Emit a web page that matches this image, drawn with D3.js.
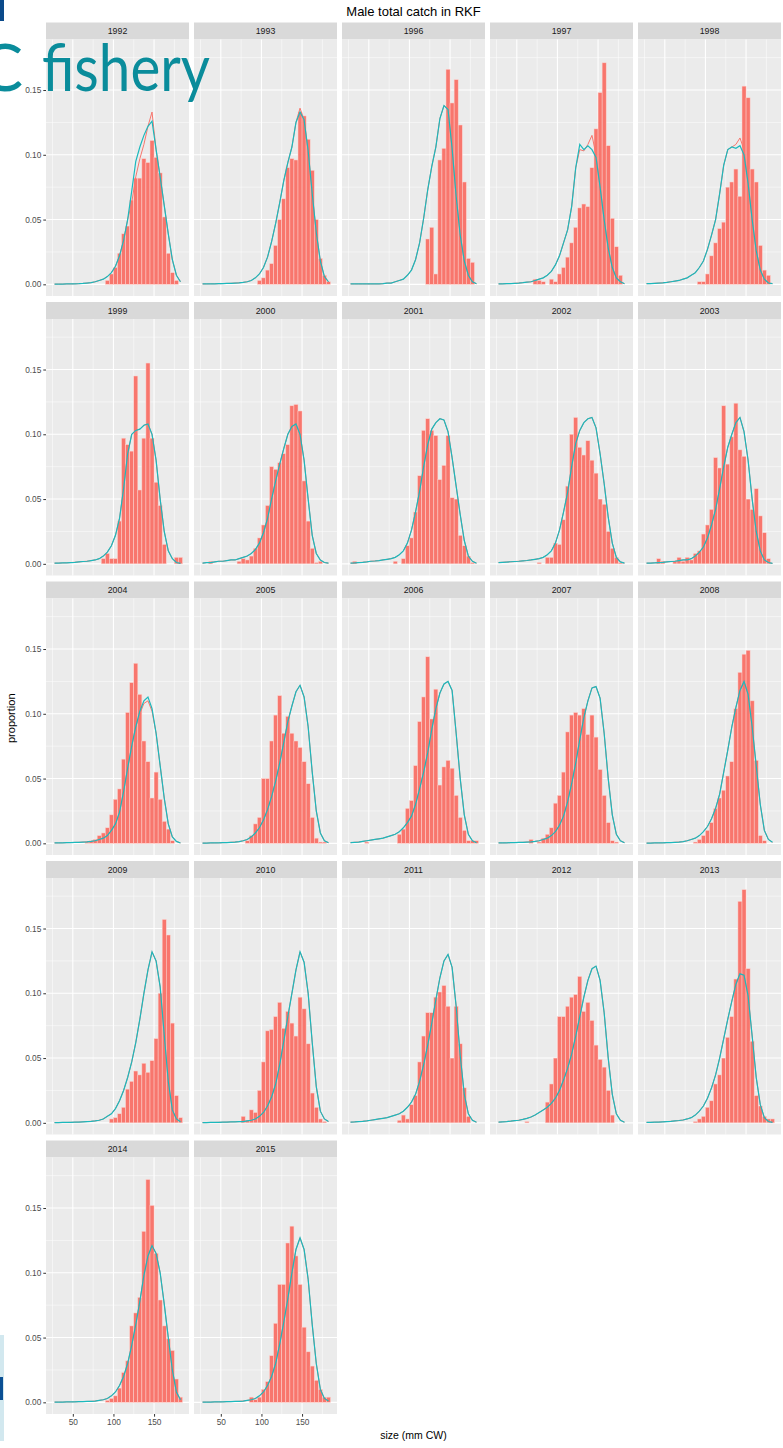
<!DOCTYPE html>
<html><head><meta charset="utf-8">
<script src="https://cdn.jsdelivr.net/npm/d3@7"></script>
<style>body{margin:0;background:#fff;} svg{display:block;font-family:"Liberation Sans",Arial,sans-serif;}</style>
</head><body><svg id="c" width="783" height="1448"></svg>
<script>
const chartTitle = "Male total catch in RKF";
const xTitle = "size (mm CW)";
const yTitle = "proportion";
const years = [1992,1993,1996,1997,1998,1999,2000,2001,2002,2003,2004,2005,2006,2007,2008,2009,2010,2011,2012,2013,2014,2015];
const sizeMid = [27.5,32.5,37.5,42.5,47.5,52.5,57.5,62.5,67.5,72.5,77.5,82.5,87.5,92.5,97.5,102.5,107.5,112.5,117.5,122.5,127.5,132.5,137.5,142.5,147.5,152.5,157.5,162.5,167.5,172.5,177.5,182.5];
const binWidth = 5;
const xTicks = [50,100,150];
const xMinor = [25,75,125,175];
const yTicks = [0,0.05,0.10,0.15];
const yMinor = [0.025,0.075,0.125,0.175];

// observed proportions by 5 mm size bin (one row per year)
const observed = [
[0,0,0,0,0,0,0,0,0,0,0,0,0,0.003,0.008,0.013,0.024,0.039,0.045,0.065,0.082,0.082,0.097,0.094,0.111,0.098,0.086,0.052,0.024,0.009,0.003,0],
[0,0,0,0,0,0,0,0,0,0,0,0,0,0,0.003,0.005,0.011,0.016,0.03,0.05,0.066,0.09,0.097,0.096,0.133,0.13,0.112,0.088,0.05,0.02,0.007,0.002],
[0,0,0,0,0,0,0,0,0,0,0,0,0,0,0,0,0,0,0,0.035,0.044,0.008,0.096,0.105,0.166,0.14,0.158,0.123,0.079,0.02,0.017,0],
[0,0,0,0,0,0,0,0,0,0.004,0.003,0.002,0,0.004,0.002,0.008,0.013,0.021,0.032,0.044,0.059,0.062,0.06,0.09,0.12,0.148,0.171,0.107,0.051,0.029,0.007,0],
[0,0,0,0,0,0,0,0,0,0,0,0,0,0.002,0.002,0.008,0.022,0.032,0.043,0.048,0.075,0.079,0.089,0.068,0.153,0.144,0.089,0.079,0.03,0.011,0.007,0],
[0,0,0,0,0,0,0,0,0,0,0,0,0.004,0.008,0.004,0.004,0.033,0.097,0.092,0.087,0.145,0.057,0.097,0.155,0.097,0.063,0.045,0.015,0,0,0.005,0.005],
[0,0,0.002,0,0,0,0,0,0,0.002,0.004,0.003,0.006,0.012,0.02,0.03,0.045,0.075,0.073,0.078,0.085,0.092,0.122,0.123,0.118,0.064,0.033,0.012,0.001,0.002,0,0],
[0,0.002,0,0,0,0,0,0,0,0,0,0.002,0,0.004,0.014,0.02,0.04,0.068,0.103,0.112,0.103,0.099,0.065,0.076,0.099,0.051,0.05,0.022,0.014,0.006,0.001,0],
[0,0,0,0,0,0,0,0,0,0,0.001,0,0.005,0.005,0.016,0.015,0.034,0.06,0.1,0.113,0.09,0.084,0.095,0.08,0.07,0.05,0.046,0.025,0.012,0.005,0.001,0],
[0,0,0,0.004,0.002,0,0,0.002,0.005,0.002,0.005,0.003,0.008,0.01,0.023,0.03,0.042,0.082,0.074,0.122,0.077,0.098,0.124,0.088,0.083,0.05,0.042,0.058,0.037,0.024,0.004,0],
[0,0,0,0,0,0,0,0,0.001,0.002,0.003,0.006,0.008,0.012,0.022,0.034,0.042,0.065,0.101,0.124,0.139,0.115,0.079,0.063,0.035,0.055,0.034,0.017,0.011,0.002,0,0],
[0,0,0,0,0,0,0,0,0,0,0,0.002,0.006,0.015,0.02,0.05,0.05,0.079,0.099,0.114,0.085,0.098,0.085,0.079,0.074,0.063,0.046,0.02,0.004,0.001,0.001,0],
[0,0,0,0,0.001,0,0,0,0,0,0,0,0.007,0.011,0.027,0.033,0.06,0.094,0.113,0.144,0.096,0.119,0.045,0.059,0.064,0.058,0.037,0.02,0.01,0.002,0.002,0.002],
[0,0,0,0,0,0,0,0,0.003,0,0.001,0.004,0.007,0.012,0.031,0.037,0.055,0.086,0.099,0.101,0.099,0.104,0.084,0.099,0.082,0.057,0.037,0.016,0.002,0.001,0,0],
[0,0,0,0,0,0,0,0,0,0,0,0,0.001,0.003,0.006,0.01,0.016,0.027,0.035,0.041,0.052,0.063,0.104,0.132,0.146,0.149,0.11,0.064,0.006,0.002,0,0],
[0,0,0,0,0,0,0,0,0,0,0,0,0,0,0.003,0.004,0.007,0.012,0.026,0.032,0.04,0.037,0.046,0.039,0.048,0.065,0.1,0.157,0.145,0.077,0.021,0.004],
[0,0,0,0,0,0,0,0,0,0,0.005,0.002,0.01,0.008,0.025,0.047,0.071,0.072,0.082,0.093,0.073,0.086,0.077,0.067,0.097,0.088,0.061,0.023,0.012,0.003,0.001,0],
[0,0,0,0,0,0,0,0,0,0,0,0,0.002,0.006,0.003,0.014,0.021,0.047,0.067,0.085,0.085,0.097,0.101,0.106,0.09,0.05,0.09,0.061,0.027,0.005,0,0],
[0,0,0,0,0,0,0,0.001,0,0,0,0,0.016,0.03,0.05,0.082,0.082,0.09,0.097,0.099,0.113,0.086,0.093,0.079,0.06,0.049,0.043,0.025,0.006,0,0,0],
[0,0,0,0,0,0,0,0,0,0,0,0,0.001,0.003,0.005,0.012,0.017,0.03,0.037,0.05,0.066,0.082,0.111,0.171,0.18,0.119,0.063,0.021,0.013,0.005,0.003,0.003],
[0,0,0,0,0,0,0,0,0,0,0,0,0,0.0015,0.003,0.005,0.011,0.023,0.032,0.059,0.069,0.081,0.132,0.172,0.152,0.115,0.079,0.059,0.049,0.04,0.018,0.004],
[0,0,0,0,0,0,0,0,0,0,0,0,0.004,0.002,0.004,0.01,0.016,0.036,0.061,0.091,0.091,0.123,0.136,0.113,0.091,0.058,0.039,0.028,0.017,0.01,0.004,0.004]
];

// predicted proportions, teal line
const predTeal = [
[0.0002,0.0002,0.0002,0.0003,0.0003,0.0004,0.0005,0.0007,0.001,0.0013,0.002,0.003,0.004,0.006,0.009,0.014,0.022,0.034,0.05,0.072,0.095,0.106,0.115,0.122,0.126,0.104,0.083,0.061,0.039,0.019,0.007,0.002],
[0.0003,0.0003,0.0004,0.0004,0.0005,0.0006,0.0007,0.0008,0.001,0.0012,0.0015,0.002,0.003,0.005,0.008,0.013,0.021,0.033,0.047,0.063,0.08,0.094,0.106,0.125,0.133,0.127,0.103,0.07,0.04,0.018,0.006,0.002],
[0.0003,0.0003,0.0003,0.0003,0.0003,0.0003,0.0003,0.0003,0.0005,0.001,0.001,0.002,0.003,0.004,0.007,0.011,0.019,0.032,0.051,0.073,0.091,0.106,0.128,0.138,0.135,0.105,0.068,0.038,0.018,0.007,0.002,0.0005],
[0.0003,0.0004,0.0005,0.0006,0.0008,0.001,0.0013,0.0017,0.002,0.003,0.004,0.005,0.007,0.01,0.015,0.022,0.032,0.042,0.06,0.09,0.108,0.104,0.107,0.104,0.098,0.075,0.05,0.028,0.013,0.005,0.002,0.0005],
[0.0005,0.0006,0.0008,0.001,0.0012,0.0015,0.002,0.0025,0.003,0.004,0.005,0.007,0.009,0.013,0.018,0.027,0.038,0.05,0.07,0.092,0.104,0.106,0.105,0.107,0.1,0.078,0.05,0.026,0.011,0.004,0.001,0.0005],
[0.0005,0.0006,0.0007,0.0008,0.001,0.0012,0.0015,0.0018,0.002,0.0025,0.003,0.004,0.006,0.009,0.014,0.022,0.035,0.058,0.085,0.1,0.103,0.104,0.107,0.108,0.1,0.08,0.05,0.025,0.01,0.004,0.001,0.0003],
[0.0005,0.001,0.001,0.0015,0.002,0.002,0.0025,0.003,0.003,0.004,0.005,0.006,0.008,0.011,0.016,0.024,0.035,0.05,0.064,0.077,0.089,0.1,0.106,0.108,0.1,0.08,0.05,0.022,0.008,0.003,0.001,0.0005],
[0.0005,0.0007,0.001,0.0012,0.0015,0.002,0.0022,0.0025,0.003,0.0035,0.004,0.005,0.007,0.01,0.016,0.026,0.04,0.056,0.075,0.092,0.104,0.109,0.112,0.111,0.102,0.082,0.06,0.038,0.018,0.006,0.002,0.0005],
[0.001,0.0012,0.0014,0.0016,0.0018,0.002,0.0023,0.0026,0.003,0.0035,0.004,0.005,0.007,0.01,0.016,0.026,0.04,0.055,0.075,0.093,0.103,0.109,0.112,0.113,0.105,0.085,0.062,0.036,0.016,0.005,0.0015,0.0005],
[0.0005,0.0006,0.0008,0.001,0.0012,0.0015,0.0018,0.002,0.0025,0.003,0.003,0.004,0.006,0.009,0.013,0.02,0.03,0.042,0.058,0.075,0.09,0.1,0.109,0.113,0.102,0.08,0.05,0.025,0.01,0.003,0.001,0.0003],
[0.0003,0.0003,0.0004,0.0005,0.0006,0.0007,0.0008,0.001,0.0012,0.0015,0.002,0.003,0.004,0.006,0.01,0.015,0.024,0.04,0.058,0.075,0.09,0.102,0.11,0.113,0.104,0.085,0.06,0.035,0.015,0.005,0.0015,0.0003],
[0.0002,0.0002,0.0003,0.0003,0.0004,0.0005,0.0006,0.0008,0.001,0.0013,0.002,0.003,0.005,0.008,0.012,0.018,0.026,0.036,0.048,0.062,0.078,0.094,0.106,0.117,0.122,0.113,0.09,0.055,0.025,0.008,0.002,0.0005],
[0.0005,0.0008,0.001,0.0015,0.002,0.0025,0.003,0.0035,0.004,0.005,0.006,0.007,0.009,0.012,0.016,0.021,0.03,0.042,0.055,0.07,0.088,0.104,0.116,0.123,0.125,0.118,0.085,0.05,0.022,0.007,0.002,0.0005],
[0.0003,0.0003,0.0004,0.0005,0.0006,0.0007,0.0008,0.001,0.0012,0.0015,0.002,0.003,0.004,0.006,0.009,0.014,0.021,0.032,0.046,0.062,0.08,0.097,0.11,0.12,0.121,0.112,0.085,0.05,0.022,0.007,0.002,0.0005],
[0.0002,0.0002,0.0003,0.0003,0.0004,0.0005,0.0006,0.0008,0.001,0.0013,0.002,0.003,0.004,0.006,0.009,0.013,0.019,0.027,0.038,0.055,0.072,0.09,0.105,0.118,0.125,0.115,0.09,0.06,0.03,0.01,0.003,0.0008],
[0.0002,0.0002,0.0003,0.0003,0.0004,0.0005,0.0006,0.0008,0.001,0.0012,0.0015,0.002,0.003,0.005,0.007,0.011,0.017,0.025,0.035,0.047,0.062,0.08,0.1,0.118,0.132,0.125,0.105,0.068,0.032,0.01,0.003,0.0008],
[0.0002,0.0002,0.0003,0.0003,0.0004,0.0005,0.0006,0.0007,0.0008,0.0009,0.001,0.0015,0.002,0.003,0.005,0.008,0.013,0.02,0.03,0.045,0.063,0.082,0.1,0.118,0.132,0.124,0.1,0.062,0.028,0.009,0.003,0.001],
[0.0005,0.0007,0.001,0.0012,0.0015,0.002,0.0025,0.003,0.0035,0.004,0.005,0.006,0.007,0.009,0.012,0.016,0.022,0.032,0.045,0.06,0.077,0.095,0.112,0.125,0.13,0.12,0.09,0.052,0.022,0.007,0.002,0.0005],
[0.0005,0.0008,0.001,0.0013,0.0017,0.002,0.0027,0.0035,0.0045,0.006,0.008,0.01,0.012,0.015,0.019,0.025,0.033,0.042,0.053,0.067,0.082,0.097,0.11,0.119,0.121,0.11,0.085,0.05,0.022,0.007,0.002,0.0005],
[0.0003,0.0004,0.0005,0.0006,0.0008,0.001,0.0012,0.0015,0.0018,0.0022,0.003,0.004,0.006,0.009,0.013,0.019,0.027,0.037,0.05,0.065,0.08,0.094,0.107,0.115,0.114,0.098,0.067,0.035,0.014,0.004,0.001,0.0003],
[0.0002,0.0002,0.0002,0.0003,0.0003,0.0004,0.0005,0.0006,0.0007,0.0008,0.001,0.0015,0.002,0.003,0.005,0.008,0.013,0.02,0.03,0.044,0.06,0.078,0.098,0.113,0.121,0.115,0.1,0.076,0.05,0.025,0.008,0.002],
[0.0002,0.0002,0.0002,0.0003,0.0003,0.0004,0.0005,0.0006,0.0007,0.0008,0.001,0.0015,0.002,0.003,0.005,0.008,0.013,0.02,0.03,0.045,0.062,0.08,0.1,0.118,0.127,0.118,0.095,0.06,0.03,0.01,0.003,0.001]
];

// predicted proportions, red line (drawn under the teal one)
const predRed = [
[0.0002,0.0002,0.0002,0.0003,0.0003,0.0004,0.0005,0.0007,0.001,0.0013,0.002,0.003,0.004,0.006,0.009,0.014,0.022,0.034,0.05,0.063,0.083,0.097,0.108,0.122,0.133,0.104,0.083,0.061,0.039,0.019,0.007,0.002],
[0.0003,0.0003,0.0004,0.0004,0.0005,0.0006,0.0007,0.0008,0.001,0.0012,0.0015,0.002,0.003,0.005,0.008,0.013,0.021,0.033,0.047,0.063,0.08,0.094,0.106,0.125,0.136,0.127,0.103,0.07,0.04,0.018,0.006,0.002],
[0.0003,0.0003,0.0003,0.0003,0.0003,0.0003,0.0003,0.0003,0.0005,0.001,0.001,0.002,0.003,0.004,0.007,0.011,0.019,0.032,0.051,0.073,0.091,0.106,0.128,0.138,0.135,0.105,0.068,0.038,0.018,0.007,0.002,0.0005],
[0.0003,0.0004,0.0005,0.0006,0.0008,0.001,0.0013,0.0017,0.002,0.003,0.004,0.005,0.007,0.01,0.015,0.022,0.032,0.042,0.06,0.09,0.104,0.103,0.108,0.115,0.1,0.075,0.05,0.028,0.013,0.005,0.002,0.0005],
[0.0005,0.0006,0.0008,0.001,0.0012,0.0015,0.002,0.0025,0.003,0.004,0.005,0.007,0.009,0.013,0.018,0.027,0.038,0.05,0.07,0.092,0.104,0.106,0.108,0.113,0.104,0.078,0.05,0.026,0.011,0.004,0.001,0.0005],
[0.0005,0.0006,0.0007,0.0008,0.001,0.0012,0.0015,0.0018,0.002,0.0025,0.003,0.004,0.006,0.009,0.014,0.022,0.035,0.058,0.085,0.1,0.103,0.104,0.107,0.108,0.1,0.08,0.05,0.025,0.01,0.004,0.001,0.0003],
[0.0005,0.001,0.001,0.0015,0.002,0.002,0.0025,0.003,0.003,0.004,0.005,0.006,0.008,0.011,0.016,0.024,0.035,0.05,0.064,0.077,0.089,0.1,0.106,0.108,0.1,0.08,0.05,0.022,0.008,0.003,0.001,0.0005],
[0.0005,0.0007,0.001,0.0012,0.0015,0.002,0.0022,0.0025,0.003,0.0035,0.004,0.005,0.007,0.01,0.016,0.026,0.04,0.056,0.075,0.092,0.104,0.109,0.112,0.111,0.102,0.082,0.06,0.038,0.018,0.006,0.002,0.0005],
[0.001,0.0012,0.0014,0.0016,0.0018,0.002,0.0023,0.0026,0.003,0.0035,0.004,0.005,0.007,0.01,0.016,0.026,0.04,0.055,0.075,0.093,0.103,0.109,0.112,0.113,0.105,0.085,0.062,0.036,0.016,0.005,0.0015,0.0005],
[0.0005,0.0006,0.0008,0.001,0.0012,0.0015,0.0018,0.002,0.0025,0.003,0.003,0.004,0.006,0.009,0.013,0.02,0.03,0.042,0.058,0.075,0.09,0.1,0.109,0.113,0.102,0.08,0.05,0.025,0.01,0.003,0.001,0.0003],
[0.0003,0.0003,0.0004,0.0005,0.0006,0.0007,0.0008,0.001,0.0012,0.0015,0.002,0.003,0.004,0.006,0.01,0.015,0.024,0.04,0.058,0.075,0.09,0.1,0.108,0.11,0.102,0.085,0.06,0.035,0.015,0.005,0.0015,0.0003],
[0.0002,0.0002,0.0003,0.0003,0.0004,0.0005,0.0006,0.0008,0.001,0.0013,0.002,0.003,0.005,0.008,0.012,0.018,0.026,0.036,0.048,0.062,0.078,0.094,0.106,0.117,0.122,0.113,0.09,0.055,0.025,0.008,0.002,0.0005],
[0.0005,0.0008,0.001,0.0015,0.002,0.0025,0.003,0.0035,0.004,0.005,0.006,0.007,0.009,0.012,0.016,0.021,0.03,0.042,0.055,0.07,0.088,0.104,0.116,0.123,0.125,0.118,0.085,0.05,0.022,0.007,0.002,0.0005],
[0.0003,0.0003,0.0004,0.0005,0.0006,0.0007,0.0008,0.001,0.0012,0.0015,0.002,0.003,0.004,0.006,0.009,0.014,0.021,0.032,0.046,0.062,0.08,0.097,0.11,0.12,0.121,0.112,0.085,0.05,0.022,0.007,0.002,0.0005],
[0.0002,0.0002,0.0003,0.0003,0.0004,0.0005,0.0006,0.0008,0.001,0.0013,0.002,0.003,0.004,0.006,0.009,0.013,0.019,0.027,0.038,0.055,0.072,0.09,0.105,0.118,0.125,0.115,0.09,0.06,0.03,0.01,0.003,0.0008],
[0.0002,0.0002,0.0003,0.0003,0.0004,0.0005,0.0006,0.0008,0.001,0.0012,0.0015,0.002,0.003,0.005,0.007,0.011,0.017,0.025,0.035,0.047,0.062,0.08,0.1,0.118,0.132,0.125,0.105,0.068,0.032,0.01,0.003,0.0008],
[0.0002,0.0002,0.0003,0.0003,0.0004,0.0005,0.0006,0.0007,0.0008,0.0009,0.001,0.0015,0.002,0.003,0.005,0.008,0.013,0.02,0.03,0.045,0.063,0.082,0.1,0.118,0.132,0.124,0.1,0.062,0.028,0.009,0.003,0.001],
[0.0005,0.0007,0.001,0.0012,0.0015,0.002,0.0025,0.003,0.0035,0.004,0.005,0.006,0.007,0.009,0.012,0.016,0.022,0.032,0.045,0.06,0.077,0.095,0.112,0.125,0.13,0.12,0.09,0.052,0.022,0.007,0.002,0.0005],
[0.0005,0.0008,0.001,0.0013,0.0017,0.002,0.0027,0.0035,0.0045,0.006,0.008,0.01,0.012,0.015,0.019,0.025,0.033,0.042,0.053,0.067,0.082,0.097,0.11,0.119,0.121,0.11,0.085,0.05,0.022,0.007,0.002,0.0005],
[0.0003,0.0004,0.0005,0.0006,0.0008,0.001,0.0012,0.0015,0.0018,0.0022,0.003,0.004,0.006,0.009,0.013,0.019,0.027,0.037,0.05,0.065,0.08,0.094,0.107,0.115,0.114,0.098,0.067,0.035,0.014,0.004,0.001,0.0003],
[0.0002,0.0002,0.0002,0.0003,0.0003,0.0004,0.0005,0.0006,0.0007,0.0008,0.001,0.0015,0.002,0.003,0.005,0.008,0.013,0.02,0.03,0.044,0.06,0.078,0.098,0.113,0.121,0.115,0.1,0.076,0.05,0.025,0.008,0.002],
[0.0002,0.0002,0.0002,0.0003,0.0003,0.0004,0.0005,0.0006,0.0007,0.0008,0.001,0.0015,0.002,0.003,0.005,0.008,0.013,0.02,0.03,0.045,0.062,0.08,0.1,0.118,0.127,0.118,0.095,0.06,0.03,0.01,0.003,0.001]
];

const svg = d3.select("#c");
const nCol = 5, panelW = 143, panelH = 256.5, stripH = 17;
const left0 = 46, colStep = 148, top0 = 22.5, rowStep = 279.5;
const x = d3.scaleLinear().domain([17, 193]).range([0, panelW]);
const y = d3.scaleLinear().domain([-0.009, 0.189]).range([panelH, 0]);
const nRows = Math.ceil(years.length / nCol);

years.forEach((yr, k) => {
  const c = k % nCol, r = Math.floor(k / nCol);
  const px = left0 + colStep * c, sy = top0 + rowStep * r, py = sy + stripH;
  const strip = svg.append("g").attr("transform", `translate(${px},${sy})`);
  strip.append("rect").attr("width", panelW).attr("height", stripH).attr("fill", "#d9d9d9");
  strip.append("text").attr("x", panelW / 2).attr("y", stripH / 2 + 3.2)
    .attr("text-anchor", "middle").attr("font-size", 8.8).attr("fill", "#1a1a1a").text(yr);

  const g = svg.append("g").attr("transform", `translate(${px},${py})`);
  g.append("rect").attr("width", panelW).attr("height", panelH).attr("fill", "#ebebeb");
  g.selectAll(".xmin").data(xMinor).join("line").attr("x1", d => x(d)).attr("x2", d => x(d))
    .attr("y1", 0).attr("y2", panelH).attr("stroke", "#fff").attr("stroke-width", 0.5);
  g.selectAll(".ymin").data(yMinor).join("line").attr("y1", d => y(d)).attr("y2", d => y(d))
    .attr("x1", 0).attr("x2", panelW).attr("stroke", "#fff").attr("stroke-width", 0.5);
  g.selectAll(".xmaj").data(xTicks).join("line").attr("x1", d => x(d)).attr("x2", d => x(d))
    .attr("y1", 0).attr("y2", panelH).attr("stroke", "#fff").attr("stroke-width", 1.1);
  g.selectAll(".ymaj").data(yTicks).join("line").attr("y1", d => y(d)).attr("y2", d => y(d))
    .attr("x1", 0).attr("x2", panelW).attr("stroke", "#fff").attr("stroke-width", 1.1);

  const bars = sizeMid.map((m, i) => ({m, v: observed[k][i]})).filter(d => d.v > 0);
  g.selectAll(".bar").data(bars).join("rect")
    .attr("x", d => x(d.m - binWidth / 2)).attr("width", d => x(d.m + binWidth / 2) - x(d.m - binWidth / 2))
    .attr("y", d => y(d.v)).attr("height", d => y(0) - y(d.v))
    .attr("fill", "#f8766d").attr("stroke", "#fbd3cf").attr("stroke-width", 0.5);

  const line = d3.line().x(d => x(d[0])).y(d => y(d[1]));
  g.append("path").datum(sizeMid.map((m, i) => [m, predRed[k][i]])).attr("d", line)
    .attr("fill", "none").attr("stroke", "#f8766d").attr("stroke-width", 1);
  g.append("path").datum(sizeMid.map((m, i) => [m, predTeal[k][i]])).attr("d", line)
    .attr("fill", "none").attr("stroke", "#1bb9bd").attr("stroke-width", 1.2);

  if (c === 0) {
    const ay = g.append("g").call(d3.axisLeft(y).tickValues(yTicks).tickFormat(d3.format(".2f")).tickSize(2.7).tickPadding(2));
    ay.select(".domain").remove();
    ay.selectAll("line").attr("stroke", "#333");
    ay.selectAll("text").attr("font-size", 8.3).attr("fill", "#4d4d4d").attr("font-family", "Liberation Sans, Arial, sans-serif");
  }
  const isLastInCol = (k + nCol >= years.length) && r === nRows - 1;
  if (isLastInCol) {
    const ax = g.append("g").attr("transform", `translate(0,${panelH})`)
      .call(d3.axisBottom(x).tickValues(xTicks).tickSize(2.7).tickPadding(2));
    ax.select(".domain").remove();
    ax.selectAll("line").attr("stroke", "#333");
    ax.selectAll("text").attr("font-size", 8.3).attr("fill", "#4d4d4d").attr("font-family", "Liberation Sans, Arial, sans-serif");
  }
});

const plotL = left0, plotR = left0 + colStep * (nCol - 1) + panelW;
svg.append("text").attr("x", (plotL + plotR) / 2).attr("y", 15.5).attr("text-anchor", "middle")
  .attr("font-size", 13).attr("fill", "#000").text(chartTitle);
const gridBottom = top0 + rowStep * (nRows - 1) + stripH + panelH;
svg.append("text").attr("x", (plotL + plotR) / 2).attr("y", gridBottom + 25).attr("text-anchor", "middle")
  .attr("font-size", 10.5).attr("fill", "#000").text(xTitle);
svg.append("text").attr("transform", `translate(15,${(top0 + gridBottom) / 2}) rotate(-90)`)
  .attr("text-anchor", "middle").attr("font-size", 11).attr("fill", "#000").text(yTitle);

// slide decorations behind/over the plot
svg.append("rect").attr("x", 0).attr("y", 0).attr("width", 4).attr("height", 21).attr("fill", "#0b4a8a");
svg.append("rect").attr("x", 0).attr("y", 1335).attr("width", 4).attr("height", 106).attr("fill", "#d2e8ef");
svg.append("rect").attr("x", 0).attr("y", 1377).attr("width", 3).attr("height", 23).attr("fill", "#0a4f94");
svg.append("text").attr("x", 23).attr("y", 91).attr("text-anchor", "end").attr("font-family", "Lato, 'Open Sans', sans-serif")
  .attr("font-size", 66).attr("fill", "#0a8c9b").text("C");
svg.append("text").attr("x", 42).attr("y", 91).attr("font-family", "Lato, 'Open Sans', sans-serif")
  .attr("font-size", 66).attr("fill", "#0a8c9b").attr("textLength", 168).attr("lengthAdjust", "spacingAndGlyphs").text("fishery");
</script></body></html>
